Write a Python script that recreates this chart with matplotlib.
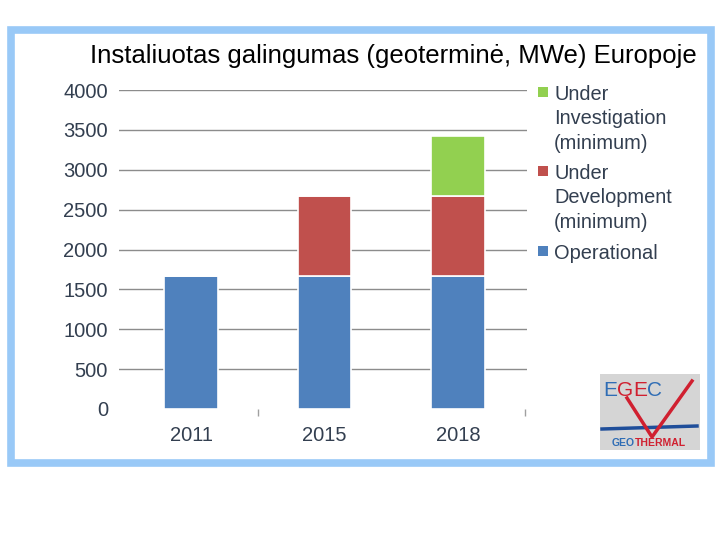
import matplotlib
matplotlib.use("Agg")
import matplotlib.pyplot as plt
from matplotlib.patches import Rectangle
from matplotlib.lines import Line2D
import numpy as np

plt.rcParams['font.family'] = ['Liberation Sans', 'DejaVu Sans']

title = "Instaliuotas galingumas (geoterminė, MWe) Europoje"
years = ["2011", "2015", "2018"]
operational = [1670, 1670, 1670]
under_development = [0, 1000, 1000]
under_investigation = [0, 0, 750]
series_labels = ["Under\nInvestigation\n(minimum)", "Under\nDevelopment\n(minimum)", "Operational"]
yticks = [0, 500, 1000, 1500, 2000, 2500, 3000, 3500, 4000]

c_op = "#4F81BD"
c_dev = "#C0504D"
c_inv = "#92D050"
txt = "#333F50"

fig = plt.figure(figsize=(7.2, 5.4), dpi=100)

def fx(px):
    return px / 720

def fy(py):
    return 1 - py / 540

# light-blue frame
frame = Rectangle((fx(11), fy(463)), 700 / 720, 433 / 540, transform=fig.transFigure,
                  fill=False, edgecolor="#99C9F7", linewidth=5.5, zorder=0)
fig.patches.append(frame)

ax = fig.add_axes([fx(119), fy(409), 408 / 720, 319 / 540])
x = np.arange(len(years))
w = 0.40
ax.bar(x, operational, w, color=c_op, edgecolor="white", linewidth=1.2, zorder=3)
ax.bar(x, under_development, w, bottom=operational, color=c_dev, edgecolor="white", linewidth=1.2, zorder=3)
bot2 = [a + b for a, b in zip(operational, under_development)]
ax.bar(x, under_investigation, w, bottom=bot2, color=c_inv, edgecolor="white", linewidth=1.2, zorder=3)

ax.set_xlim(-0.54, 2.516)
ax.set_ylim(0, 4000)
ax.set_yticks(yticks)
ax.set_yticklabels([str(v) for v in yticks], fontsize=14.5, color=txt)
ax.set_xticks(x)
ax.set_xticklabels(years, fontsize=14.5, color=txt)
ax.tick_params(axis='y', length=0, pad=8)
ax.tick_params(axis='x', length=0, pad=12)
ax.set_xticks([0.5, 2.5], minor=True)
ax.tick_params(axis='x', which='minor', length=5, color="#A0A0A0", width=1)
for s in ax.spines.values():
    s.set_visible(False)
ax.yaxis.grid(True, color="#8C8C8C", linewidth=1.0, zorder=0)
ax.set_axisbelow(True)
ax.get_ygridlines()[0].set_visible(False)

fig.text(fx(393), fy(56), title, ha="center", va="center", fontsize=18.5, color="black")

# legend (manual, handles aligned with first line of each label)
colors = [c_inv, c_dev, c_op]
leg_y = [92, 171, 251]
for lab, col, yy in zip(series_labels, colors, leg_y):
    fig.patches.append(Rectangle((fx(538), fy(yy + 5)), 10 / 720, 10 / 540, transform=fig.transFigure,
                                 facecolor=col, edgecolor="none"))
    fig.text(fx(554), fy(yy - 7), lab, ha="left", va="top", fontsize=14.4, color=txt, linespacing=1.36)

# EGEC logo
fig.patches.append(Rectangle((fx(600), fy(450)), 100 / 720, 76 / 540, transform=fig.transFigure,
                             facecolor="#D5D5D5", edgecolor="none", zorder=1))
for ch, px, col in [("E", 603, "#2F6DB5"), ("G", 617, "#D02030"), ("E", 633, "#D02030"), ("C", 647, "#2F6DB5")]:
    fig.text(fx(px), fy(390), ch, color=col, fontsize=15, va="center", ha="left", zorder=2)
fig.lines.append(Line2D([fx(602), fx(697)], [fy(429), fy(426)], transform=fig.transFigure,
                        color="#1F4E9A", linewidth=2.5, zorder=2))
fig.lines.append(Line2D([fx(627), fx(652), fx(692)], [fy(398), fy(437), fy(381)],
                        transform=fig.transFigure, color="#D02030", linewidth=2.5, zorder=3))
fig.text(fx(612), fy(443), "GEO", color="#2F6DB5", fontsize=7.5, fontweight="bold", va="center", ha="left", zorder=2)
fig.text(fx(635), fy(443), "THERMAL", color="#D02030", fontsize=7.5, fontweight="bold", va="center", ha="left", zorder=2)

fig.savefig("out.png", dpi=100)
